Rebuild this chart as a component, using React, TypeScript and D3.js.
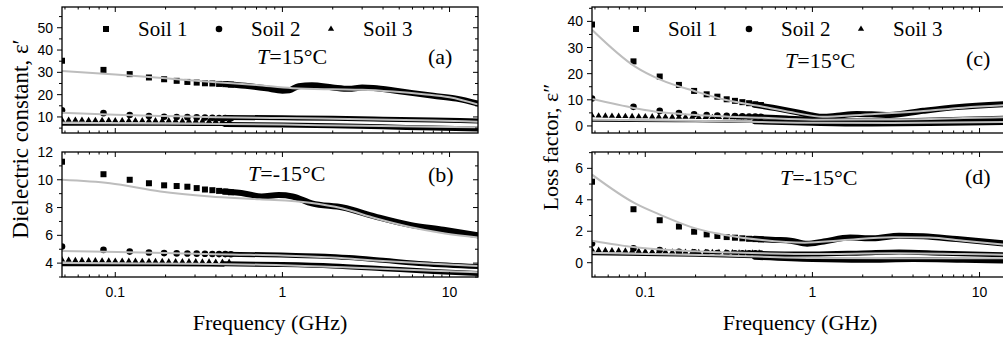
import React from "react";
import * as d3 from "d3";

const W = 1003;
const H = 338;

// x axis (GHz), shared by the four panels
const freqDomain = [0.048, 14.8];
const freqTicks = [0.1, 1, 10];

// sweep frequencies of the square / circle markers (GHz)
const markerFreq = [0.048, 0.085, 0.122, 0.159, 0.196, 0.233, 0.27, 0.307, 0.344, 0.381, 0.418, 0.455, 0.492];
// sweep frequencies of the triangle markers (GHz)
const triFreq = [
  0.048, 0.0526, 0.0577, 0.0632, 0.0693, 0.076, 0.0834, 0.0914, 0.1, 0.11, 0.1205, 0.132, 0.145,
  0.159, 0.174, 0.191, 0.209, 0.2296, 0.252, 0.276, 0.303, 0.332, 0.364, 0.399, 0.4375, 0.48,
];

// ---- (a) dielectric constant, T=15°C
const aSoil1 = [35.2, 31.1, 29.2, 27.7, 26.9, 26.2, 25.7, 25.4, 25.1, 25.0, 24.8, 24.7, 24.5];
const aSoil2 = [13.0, 11.7, 10.9, 10.4, 10.1, 10.0, 9.9, 9.8, 9.7, 9.6, 9.5, 9.5, 9.4];
const aSoil3 = [8.7, 8.6, 8.6, 8.6, 8.5, 8.5, 8.5, 8.5, 8.4, 8.4, 8.4, 8.4, 8.4, 8.3, 8.3, 8.3, 8.3, 8.3, 8.2, 8.2, 8.2, 8.2, 8.1, 8.1, 8.1, 8.1];
const aBand1 = [[0.45, 24.8], [0.6, 24.0], [0.8, 22.8], [1.0, 21.8], [1.1, 22.0], [1.25, 23.8], [1.5, 24.2], [2.0, 23.2], [2.5, 22.6], [3.0, 23.2], [3.5, 23.0], [5, 21.5], [8, 19.5], [11, 18.2], [14.8, 16.0]];
const aBand2 = [[0.45, 9.8], [1, 9.6], [2, 9.4], [4, 9.0], [8, 8.6], [14.8, 8.2]];
const aBand3 = [[0.45, 6.6], [1, 6.4], [2, 6.1], [4, 5.6], [8, 5.0], [14.8, 4.6]];
const aLow3 = [[0.048, 6.6], [0.2, 6.5], [0.45, 6.4]];
const aFit1 = [[0.048, 30.6], [0.1, 29.0], [0.2, 27.3], [0.4, 25.6], [0.7, 24.3], [1.15, 22.9], [2, 22.4], [3, 22.2], [4.6, 21.4], [7, 20.2], [10, 18.8], [14.8, 15.6]];
const aFit2 = [[0.048, 11.9], [0.1, 11.0], [0.2, 10.4], [0.4, 9.9], [1, 9.5], [3, 9.0], [8, 8.4], [14.8, 7.9]];
const aFit3 = [[0.048, 7.3], [0.3, 7.0], [1, 6.6], [3, 6.0], [8, 5.6], [14.8, 5.4]];

// ---- (b) dielectric constant, T=-15°C
const bSoil1 = [11.3, 10.4, 10.0, 9.75, 9.6, 9.55, 9.5, 9.4, 9.3, 9.25, 9.2, 9.15, 9.1];
const bSoil2 = [5.2, 4.95, 4.83, 4.76, 4.72, 4.7, 4.69, 4.68, 4.67, 4.66, 4.65, 4.65, 4.64];
const bSoil3 = [4.25, 4.22, 4.2, 4.2, 4.18, 4.18, 4.17, 4.16, 4.15, 4.15, 4.14, 4.14, 4.13, 4.13, 4.12, 4.12, 4.11, 4.11, 4.1, 4.1, 4.1, 4.09, 4.09, 4.08, 4.08, 4.07];
const bBand1 = [[0.45, 9.15], [0.6, 9.0], [0.75, 8.8], [0.95, 8.9], [1.15, 8.8], [1.5, 8.3], [2.3, 8.0], [3.6, 7.35], [5.8, 6.75], [9.2, 6.4], [14.8, 6.0]];
const bBand2 = [[0.45, 4.64], [0.8, 4.6], [1.2, 4.55], [1.8, 4.5], [2.5, 4.4], [4, 4.2], [7, 3.95], [14.8, 3.75]];
const bBand3 = [[0.45, 3.95], [1, 3.9], [2, 3.8], [4, 3.6], [8, 3.4], [14.8, 3.25]];
const bLow3 = [[0.048, 3.85], [0.2, 3.85], [0.45, 3.82]];
const bFit1 = [[0.048, 10.0], [0.093, 9.75], [0.186, 9.15], [0.37, 8.8], [0.73, 8.6], [1.46, 8.35], [2.27, 7.95], [3.6, 7.23], [5.8, 6.6], [9.2, 6.15], [14.8, 5.85]];
const bFit2 = [[0.048, 4.88], [0.2, 4.72], [0.5, 4.62], [1, 4.55], [2, 4.4], [4, 4.15], [8, 3.95], [14.8, 3.8]];
const bFit3 = [[0.048, 4.0], [0.3, 3.95], [1, 3.85], [3, 3.65], [8, 3.45], [14.8, 3.35]];

// ---- (c) loss factor, T=15°C
const cSoil1 = [38.8, 24.7, 18.9, 15.7, 13.4, 12.1, 11.2, 10.2, 9.6, 9.1, 8.7, 8.3, 8.0];
const cSoil2 = [10.5, 7.3, 5.75, 4.9, 4.5, 4.2, 4.0, 3.9, 3.8, 3.7, 3.6, 3.55, 3.5];
const cSoil3 = [4.0, 3.9, 3.85, 3.8, 3.75, 3.7, 3.65, 3.6, 3.6, 3.55, 3.5, 3.5, 3.45, 3.45, 3.4, 3.4, 3.35, 3.35, 3.3, 3.3, 3.25, 3.25, 3.2, 3.2, 3.15, 3.15];
const cBand1 = [[0.45, 8.1], [0.6, 6.8], [0.8, 5.3], [1.0, 4.0], [1.15, 3.5], [1.4, 3.9], [1.84, 4.6], [2.4, 4.4], [2.9, 4.2], [4.6, 5.8], [7.3, 7.2], [14.8, 8.4]];
const cBand2 = [[0.45, 3.5], [0.7, 3.0], [1, 2.4], [1.5, 2.0], [3, 1.9], [6, 2.4], [14.8, 3.0]];
const cBand3 = [[0.45, 1.6], [1, 1.0], [2, 0.7], [5, 0.9], [14.8, 1.3]];
const cLow3 = [[0.048, 2.0], [0.2, 1.8], [0.45, 1.6]];
const cFit1 = [[0.048, 36.8], [0.087, 22.7], [0.124, 17.6], [0.2, 13.2], [0.3, 10.0], [0.5, 7.4], [0.8, 4.9], [1.15, 3.5], [2, 4.3], [4, 5.4], [8, 7.0], [14.8, 8.0]];
const cFit2 = [[0.048, 10.3], [0.087, 6.8], [0.124, 5.2], [0.2, 4.2], [0.5, 3.1], [1, 2.4], [3, 2.5], [8, 3.0], [14.8, 3.4]];
const cFit3 = [[0.048, 2.4], [0.3, 1.8], [1, 1.2], [3, 1.1], [14.8, 1.5]];

// ---- (d) loss factor, T=-15°C
const dSoil1 = [5.15, 3.4, 2.7, 2.3, 1.97, 1.8, 1.7, 1.63, 1.59, 1.55, 1.52, 1.5, 1.48];
const dSoil2 = [1.22, 0.91, 0.8, 0.7, 0.66, 0.64, 0.62, 0.61, 0.6, 0.6, 0.59, 0.59, 0.58];
const dSoil3 = [0.82, 0.8, 0.78, 0.77, 0.76, 0.75, 0.74, 0.73, 0.72, 0.71, 0.7, 0.7, 0.69, 0.68, 0.68, 0.67, 0.66, 0.66, 0.65, 0.65, 0.64, 0.64, 0.63, 0.63, 0.62, 0.62];
const dBand1 = [[0.45, 1.52], [0.6, 1.45], [0.74, 1.4], [0.93, 1.2], [1.17, 1.35], [1.68, 1.6], [2.3, 1.55], [3.3, 1.72], [4.6, 1.68], [7.3, 1.5], [14.8, 1.2]];
const dBand2 = [[0.45, 0.6], [1, 0.55], [2, 0.62], [3.3, 0.68], [6, 0.6], [14.8, 0.5]];
const dBand3 = [[0.45, 0.35], [1, 0.2], [2, 0.15], [4, 0.2], [8, 0.15], [14.8, 0.1]];
const dLow3 = [[0.048, 0.55], [0.2, 0.45], [0.45, 0.35]];
const dFit1 = [[0.048, 5.6], [0.087, 3.77], [0.124, 3.03], [0.2, 2.18], [0.3, 1.76], [0.5, 1.44], [0.9, 1.27], [1.5, 1.42], [3, 1.62], [5, 1.6], [8, 1.4], [14.8, 1.12]];
const dFit2 = [[0.048, 1.4], [0.087, 0.98], [0.2, 0.72], [0.5, 0.6], [1, 0.55], [3, 0.6], [8, 0.55], [14.8, 0.5]];
const dFit3 = [[0.048, 0.62], [0.3, 0.45], [1, 0.3], [3, 0.28], [14.8, 0.28]];

const legendLabels = ["Soil 1", "Soil 2", "Soil 3"];

const PW = 416;
const serif = "'Liberation Serif', 'Times New Roman', serif";
const sans = "'Liberation Sans', Arial, sans-serif";
const fitColor = "#bdbdbd";

const panels = [
  {
    id: "a", left: 62, top: 7, bottom: 133, yDomain: [2.8, 59.3], yTicks: [10, 20, 30, 40, 50], yMinor: 5,
    s1: aSoil1, s2: aSoil2, s3: aSoil3, bands: [aBand1, aBand2, aBand3], low3: aLow3, fits: [aFit1, aFit2, aFit3],
    temp: "15°C", tempX: 257, tempY: 64, tagX: 428, tagY: 64, legend: true,
  },
  {
    id: "b", left: 62, top: 152, bottom: 277, yDomain: [3, 12], yTicks: [4, 6, 8, 10, 12], yMinor: 1,
    s1: bSoil1, s2: bSoil2, s3: bSoil3, bands: [bBand1, bBand2, bBand3], low3: bLow3, fits: [bFit1, bFit2, bFit3],
    temp: "-15°C", tempX: 248, tempY: 181, tagX: 428, tagY: 182, xLabels: true,
  },
  {
    id: "c", left: 592, top: 7, bottom: 133, yDomain: [-2.7, 45.5], yTicks: [0, 10, 20, 30, 40], yMinor: 5,
    s1: cSoil1, s2: cSoil2, s3: cSoil3, bands: [cBand1, cBand2, cBand3], low3: cLow3, fits: [cFit1, cFit2, cFit3],
    temp: "15°C", tempX: 785, tempY: 68, tagX: 966, tagY: 66, legend: true,
  },
  {
    id: "d", left: 592, top: 152, bottom: 277, yDomain: [-0.91, 7.04], yTicks: [0, 2, 4, 6], yMinor: 1,
    s1: dSoil1, s2: dSoil2, s3: dSoil3, bands: [dBand1, dBand2, dBand3], low3: dLow3, fits: [dFit1, dFit2, dFit3],
    temp: "-15°C", tempX: 780, tempY: 185, tagX: 965, tagY: 184, xLabels: true,
  },
];

const triPath = d3.symbol(d3.symbolTriangle, 17)() as string;

const Panel = ({ p }: any) => {
  const x = d3.scaleLog().domain(freqDomain).range([p.left, p.left + PW]);
  const y = d3.scaleLinear().domain(p.yDomain).range([p.bottom, p.top]);
  const line = d3
    .line<any>()
    .x((d: any) => x(d[0]))
    .y((d: any) => y(d[1]))
    .curve(d3.curveMonotoneX);

  const right = p.left + PW;
  const minorX: number[] = [];
  [-2, -1, 0, 1].forEach((e) => {
    for (let k = 2; k <= 9; k++) {
      const f = k * Math.pow(10, e);
      if (f > freqDomain[0] && f < freqDomain[1]) minorX.push(f);
    }
  });
  const yAll = d3
    .range(Math.ceil(p.yDomain[0] / p.yMinor) * p.yMinor, p.yDomain[1], p.yMinor)
    .map((v: number) => +v.toFixed(4));
  const clipId = `clip-${p.id}`;

  return (
    <g>
      <defs>
        <clipPath id={clipId}>
          <rect x={p.left} y={p.top} width={PW} height={p.bottom - p.top} />
        </clipPath>
      </defs>
      <g clipPath={`url(#${clipId})`}>
        {/* dense part of the sweep */}
        {p.bands.map((b: any, i: number) => (
          <path key={i} d={line(b) as string} fill="none" stroke="#000" strokeWidth={i === 0 ? 6 : 5} strokeLinecap="round" />
        ))}
        <path d={line(p.low3) as string} fill="none" stroke="#000" strokeWidth={2.2} />
        {/* markers */}
        {p.s1.map((v: number, i: number) => (
          <rect key={`s${i}`} x={x(markerFreq[i]) - 3} y={y(v) - 3} width={6} height={6} fill="#000" />
        ))}
        {p.s2.map((v: number, i: number) => (
          <circle key={`c${i}`} cx={x(markerFreq[i])} cy={y(v)} r={3.3} fill="#000" />
        ))}
        {p.s3.map((v: number, i: number) => (
          <path key={`t${i}`} d={triPath} transform={`translate(${x(triFreq[i])},${y(v)})`} fill="#000" />
        ))}
        {/* model curves */}
        {p.fits.map((f: any, i: number) => (
          <path key={`f${i}`} d={line(f) as string} fill="none" stroke={fitColor} strokeWidth={2} />
        ))}
      </g>

      {/* frame */}
      <rect x={p.left} y={p.top} width={PW} height={p.bottom - p.top} fill="none" stroke="#000" strokeWidth={1.3} />

      {/* x ticks, inward on bottom and top */}
      {freqTicks.map((t) => (
        <g key={`xt${t}`}>
          <line x1={x(t)} x2={x(t)} y1={p.bottom} y2={p.bottom - 5} stroke="#000" />
          <line x1={x(t)} x2={x(t)} y1={p.top} y2={p.top + 5} stroke="#000" />
        </g>
      ))}
      {minorX.map((t) => (
        <g key={`xm${t}`}>
          <line x1={x(t)} x2={x(t)} y1={p.bottom} y2={p.bottom - 2.5} stroke="#000" />
          <line x1={x(t)} x2={x(t)} y1={p.top} y2={p.top + 2.5} stroke="#000" />
        </g>
      ))}
      {p.xLabels &&
        freqTicks.map((t) => (
          <text key={`xl${t}`} x={x(t)} y={297} textAnchor="middle" fontFamily={sans} fontSize={14}>
            {t}
          </text>
        ))}

      {/* y ticks: outward on the left, inward on the right */}
      {yAll.map((v: number) => {
        const major = p.yTicks.includes(v);
        return (
          <g key={`yt${v}`}>
            <line x1={p.left} x2={p.left - (major ? 5 : 3)} y1={y(v)} y2={y(v)} stroke="#000" />
            <line x1={right} x2={right - (major ? 5 : 3)} y1={y(v)} y2={y(v)} stroke="#000" />
          </g>
        );
      })}
      {p.yTicks.map((v: number) => (
        <text key={`yl${v}`} x={p.left - 9} y={y(v) + 5} textAnchor="end" fontFamily={sans} fontSize={14}>
          {v}
        </text>
      ))}

      {/* legend */}
      {p.legend && (
        <g fontFamily={serif} fontSize={21}>
          <rect x={p.left + 41} y={26} width={6} height={6} fill="#000" />
          <text x={p.left + 76} y={36}>{legendLabels[0]}</text>
          <circle cx={p.left + 157} cy={29} r={3.3} fill="#000" />
          <text x={p.left + 189} y={36}>{legendLabels[1]}</text>
          <path d={triPath} transform={`translate(${p.left + 269},29)`} fill="#000" />
          <text x={p.left + 301} y={36}>{legendLabels[2]}</text>
        </g>
      )}

      <text x={p.tempX} y={p.tempY} fontFamily={serif} fontSize={22}>
        <tspan fontStyle="italic">T</tspan>={p.temp}
      </text>
      <text x={p.tagX} y={p.tagY} fontFamily={serif} fontSize={22}>
        ({p.id})
      </text>
    </g>
  );
};

export default function App() {
  return (
    <svg
      width={W}
      height={H}
      style={{ position: "absolute", left: 0, top: 0, background: "#fff", display: "block" }}
    >
      {panels.map((p) => (
        <Panel key={p.id} p={p} />
      ))}
      <text
        transform="translate(28,139) rotate(-90)"
        textAnchor="middle"
        fontFamily={serif}
        fontSize={23}
      >
        Dielectric constant, ε′
      </text>
      <text
        transform="translate(558,147) rotate(-90)"
        textAnchor="middle"
        fontFamily={serif}
        fontSize={22}
      >
        Loss factor, ε″
      </text>
      <text x={270} y={330} textAnchor="middle" fontFamily={serif} fontSize={22}>
        Frequency (GHz)
      </text>
      <text x={800} y={330} textAnchor="middle" fontFamily={serif} fontSize={22}>
        Frequency (GHz)
      </text>
    </svg>
  );
}
